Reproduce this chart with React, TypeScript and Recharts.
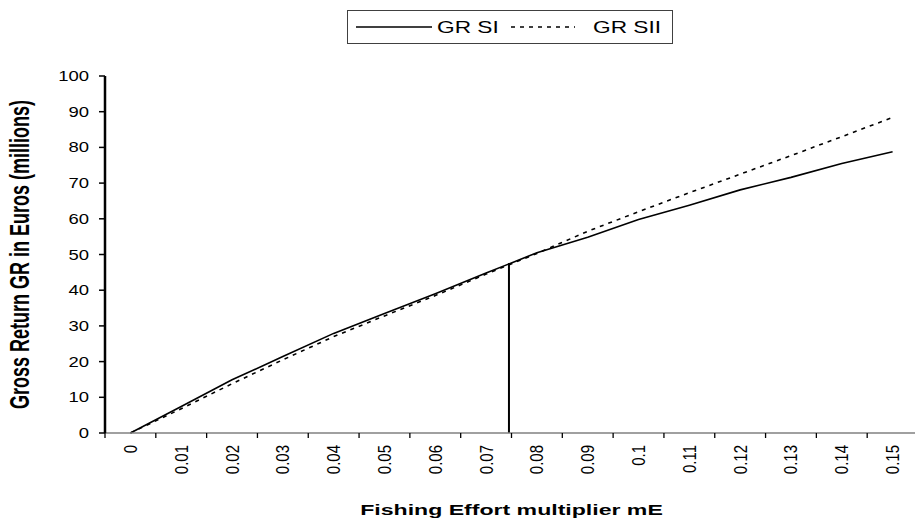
import React from 'react';
import { Label, Legend, Line, LineChart, ReferenceLine, XAxis, YAxis } from 'recharts';

// fishing effort multiplier categories
const effort = [0, 0.01, 0.02, 0.03, 0.04, 0.05, 0.06, 0.07, 0.08, 0.09, 0.1, 0.11, 0.12, 0.13, 0.14, 0.15];

// gross return, millions of euros
const grSI = [0, 7.4, 14.9, 21.4, 27.9, 33.5, 39, 44.8, 50.5, 54.8, 59.8, 63.8, 68.1, 71.6, 75.5, 78.8];
const grSII = [0, 6.8, 13.8, 20.5, 27, 32.8, 38.5, 44.5, 50.3, 56.5, 62, 67.3, 72.5, 77.7, 83, 88.4];

const yTicks = [0, 10, 20, 30, 40, 50, 60, 70, 80, 90, 100];

// vertical marker between 0.07 and 0.08
const markerEffort = 0.0745;
const markerGR = 47.6;

const halfStep = 0.005;
const xDomain = [effort[0] - halfStep, effort[effort.length - 1] + halfStep];
const data = effort.map((mE, i) => ({ mE, si: grSI[i], sii: grSII[i] }));

const FONT = '"Liberation Sans", Arial, sans-serif';

// label rotated like excel, tick marks sit between categories
const EffortTick = ({ x, y, width, index, payload }: any) => {
  const half = (width * halfStep) / (xDomain[1] - xDomain[0]);
  const axisY = y - 12;
  return (
    <g>
      {index === 0 && <line x1={x - half} x2={x - half} y1={axisY} y2={axisY + 5} stroke="#000" strokeWidth={1.3} />}
      <line x1={x + half} x2={x + half} y1={axisY} y2={axisY + 5} stroke="#000" strokeWidth={1.3} />
      <text
        transform={`translate(${x},${y}) rotate(-90) scale(1,1.2)`}
        textAnchor="end"
        dy="0.36em"
        fontFamily={FONT}
        fontSize={15}
        fill="#000"
      >
        {payload.value}
      </text>
    </g>
  );
};

const GRTick = ({ x, y, payload }: any) => (
  <text
    transform={`translate(${x},${y}) scale(1.32,1)`}
    textAnchor="end"
    dy="0.36em"
    fontFamily={FONT}
    fontSize={14}
    fill="#000"
  >
    {payload.value}
  </text>
);

const YTitle = ({ viewBox }: any) => {
  const cy = viewBox.y + viewBox.height / 2;
  return (
    <text
      transform={`translate(19,${cy}) rotate(-90) scale(1,1.55)`}
      textAnchor="middle"
      dy="0.35em"
      fontFamily={FONT}
      fontWeight="bold"
      fontSize={18}
      fill="#000"
    >
      Gross Return GR in Euros (millions)
    </text>
  );
};

const XTitle = ({ viewBox }: any) => {
  const cx = viewBox.x + viewBox.width / 2;
  return (
    <text
      transform={`translate(${cx},${viewBox.y + 82}) scale(1.65,1)`}
      textAnchor="middle"
      fontFamily={FONT}
      fontWeight="bold"
      fontSize={14}
      fill="#000"
    >
      Fishing Effort multiplier mE
    </text>
  );
};

const LegendBox = ({ payload }: any) => {
  const items = payload || [];
  const slots = [
    { x1: 9, x2: 85, tx: 90 },
    { x1: 164, x2: 228, tx: 246 },
  ];
  return (
    <svg width={326} height={34} style={{ display: 'block' }}>
      <rect x={0.5} y={0.5} width={325} height={33} fill="#fff" stroke="#404040" />
      {items.map((entry: any, i: number) => {
        const s = slots[i];
        if (!s) return null;
        return (
          <g key={entry.value}>
            <line
              x1={s.x1}
              x2={s.x2}
              y1={17}
              y2={17}
              stroke="#000"
              strokeWidth={1.6}
              strokeDasharray={entry.payload?.strokeDasharray}
            />
            <text
              transform={`translate(${s.tx},17) scale(1.42,1)`}
              dy="0.36em"
              fontFamily={FONT}
              fontSize={16}
              fill="#000"
            >
              {entry.value}
            </text>
          </g>
        );
      })}
    </svg>
  );
};

export default function App() {
  return (
    <div style={{ position: 'absolute', left: 0, top: 0, width: 915, height: 524, overflow: 'hidden', background: '#fff' }}>
      <LineChart width={920} height={524} data={data} margin={{ top: 76, right: 2, bottom: 0, left: 0 }}>
        <XAxis
          dataKey="mE"
          type="number"
          domain={xDomain}
          ticks={effort}
          interval={0}
          height={91}
          tickLine={false}
          tickSize={5}
          tickMargin={7}
          stroke="#808080"
          axisLine={{ stroke: '#808080', strokeWidth: 1.3 }}
          tick={<EffortTick />}
        >
          <Label content={<XTitle />} />
        </XAxis>
        <YAxis
          domain={[0, 100]}
          ticks={yTicks}
          interval={0}
          width={105}
          tickSize={6}
          tickMargin={10}
          stroke="#000"
          axisLine={{ stroke: '#000', strokeWidth: 2.5 }}
          tickLine={{ stroke: '#000', strokeWidth: 1.5 }}
          tick={<GRTick />}
        >
          <Label content={<YTitle />} />
        </YAxis>
        <Legend
          layout="horizontal"
          verticalAlign="middle"
          align="center"
          wrapperStyle={{ left: 347, top: 10, width: 326, height: 34 }}
          content={<LegendBox />}
        />
        <Line
          type="linear"
          dataKey="si"
          name="GR SI"
          stroke="#000"
          strokeWidth={1.6}
          dot={false}
          isAnimationActive={false}
        />
        <Line
          type="linear"
          dataKey="sii"
          name="GR SII"
          stroke="#000"
          strokeWidth={1.6}
          strokeDasharray="4 5"
          dot={false}
          isAnimationActive={false}
        />
        <ReferenceLine
          segment={[
            { x: markerEffort, y: 0 },
            { x: markerEffort, y: markerGR },
          ]}
          stroke="#000"
          strokeWidth={2}
        />
      </LineChart>
    </div>
  );
}
